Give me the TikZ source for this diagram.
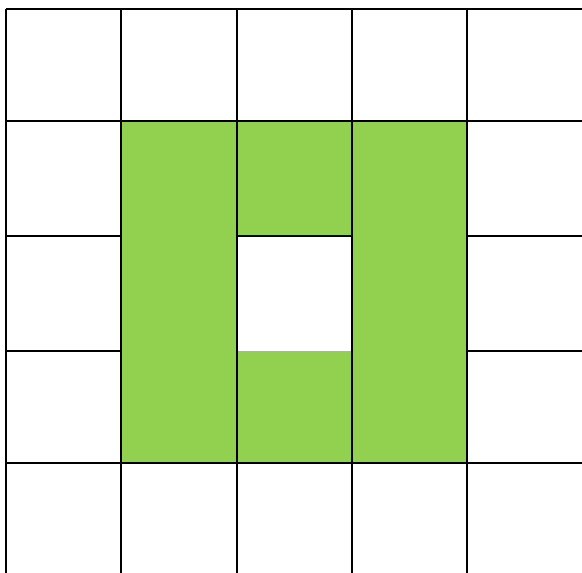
\documentclass[tikz,border=0pt]{standalone}
\usepackage{xcolor}
\definecolor{cellgreen}{RGB}{146,208,80}
\usepackage{tikz}
\tikzset{
  gridline/.style={draw=black,line width=1.8pt},
  filled/.style={fill=cellgreen},
  hole/.style={fill=white},
}

\begin{document}
\begin{tikzpicture}[x=1pt,y=-1pt]
\useasboundingbox (0,0) rectangle (582,573);
% green block with the white hole
\fill[filled] (121,121) rectangle (467,463);
\fill[hole] (237,236) rectangle (352,351);
% full-length lines
\draw[gridline] (6,9) -- (582,9);
\draw[gridline] (6,121) -- (582,121);
\draw[gridline] (6,463) -- (582,463);
\foreach \x in {6,121,237,352,467}
  \draw[gridline] (\x,9) -- (\x,573);
% short lines
\draw[gridline] (6,236) -- (121,236);
\draw[gridline] (237,236) -- (352,236);
\draw[gridline] (467,236) -- (582,236);
\draw[gridline] (6,351) -- (121,351);
\draw[gridline] (467,351) -- (582,351);
\end{tikzpicture}
\end{document}
